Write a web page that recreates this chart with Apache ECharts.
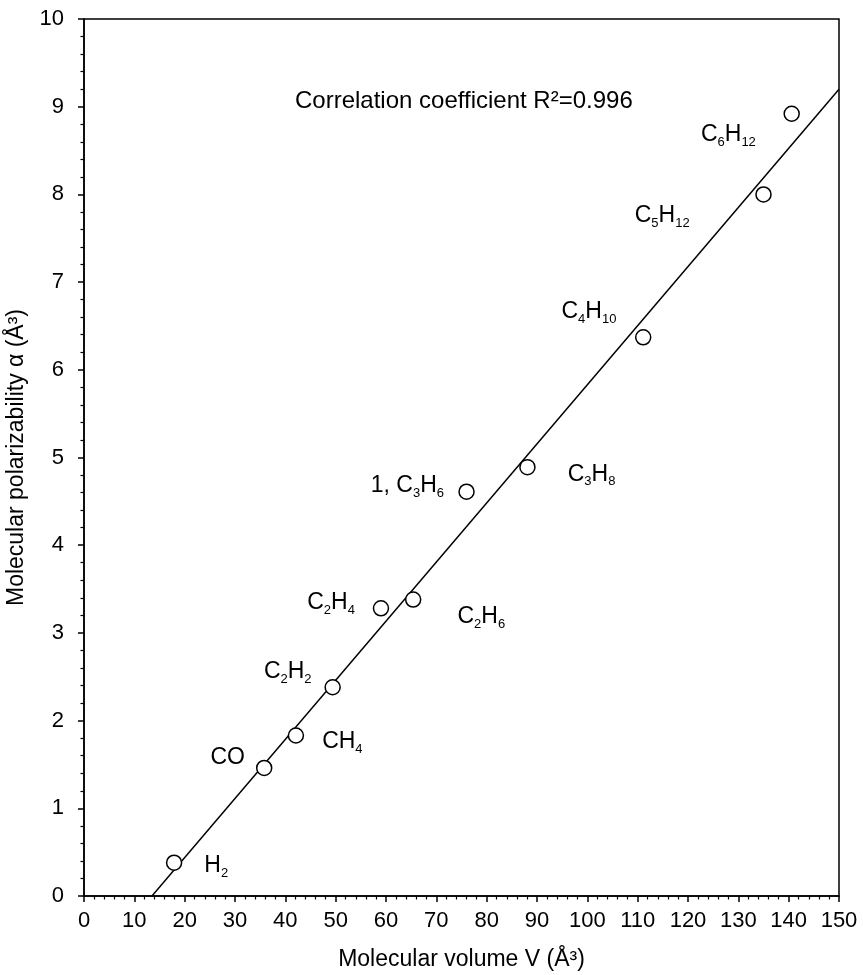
<!DOCTYPE html>
<html>
<head>
<meta charset="utf-8">
<script src="https://cdn.jsdelivr.net/npm/echarts@6/dist/echarts.min.js"></script>
<style>
  html, body { margin: 0; padding: 0; background: #fff; }
  #chart { width: 863px; height: 975px; }
</style>
</head>
<body>
<div id="chart"></div>
<script>
// Molecules and their measured volume / polarizability
const compounds = ['H2', 'CO', 'CH4', 'C2H2', 'C2H4', 'C2H6', '1, C3H6', 'C3H8', 'C4H10', 'C5H12', 'C6H12'];
const volume = [17.9, 35.8, 42.1, 49.4, 59.0, 65.4, 76.0, 88.1, 111.1, 135.0, 140.6];
const polarizability = [0.38, 1.46, 1.83, 2.38, 3.28, 3.38, 4.61, 4.89, 6.37, 8.00, 8.92];

// Linear fit end points (x-intercept and value at the right edge)
const fitLine = [[13.5, 0], [150, 9.2]];

// Axis ranges
const xRange = { min: 0, max: 150, step: 10 };
const yRange = { min: 0, max: 10, step: 1 };

const correlationText = 'Correlation coefficient R\u00B2=0.996';
const xTitle = 'Molecular volume V (\u00C5\u00B3)';
const yTitle = 'Molecular polarizability \u03B1 (\u00C5\u00B3)';

// Pixel offsets of each formula label from its marker centre (left edge, vertical middle)
const labelOffsets = {
  'H2': [31, 4],
  'CO': [-53, -10],
  'CH4': [27, 7],
  'C2H2': [-68, -15],
  'C2H4': [-73, -5],
  'C2H6': [45, 18],
  '1, C3H6': [-95, -5],
  'C3H8': [41, 8],
  'C4H10': [-81, -25],
  'C5H12': [-128, 22],
  'C6H12': [-90, 22]
};

const FONT = '"Liberation Sans", Arial, Helvetica, sans-serif';
const SYMBOL = 15;

// Turn element counts into subscripts: C3H6 -> C{s|3}H{s|6}
function formula(name) {
  return name.replace(/([A-Z])(\d+)/g, '$1{s|$2}');
}

const points = compounds.map((name, i) => {
  const off = labelOffsets[name];
  return {
    name: name,
    value: [volume[i], polarizability[i]],
    label: {
      position: [off[0] + SYMBOL / 2, off[1] + SYMBOL / 2]
    }
  };
});

const chart = echarts.init(document.getElementById('chart'), null, { renderer: 'canvas' });

const axisCommon = {
  type: 'value',
  nameLocation: 'middle',
  nameTextStyle: { fontFamily: FONT, fontSize: 23, color: '#000' },
  axisLine: { show: true, onZero: false, lineStyle: { color: '#000', width: 1.5 } },
  axisTick: { show: true, inside: false, length: 6, lineStyle: { color: '#000', width: 1.5 } },
  minorTick: { show: true, splitNumber: 5, length: 3.5, lineStyle: { color: '#000', width: 1.2 } },
  splitLine: { show: false },
  minorSplitLine: { show: false },
  axisLabel: { fontFamily: FONT, fontSize: 22, color: '#000' }
};

chart.setOption({
  backgroundColor: '#fff',
  animation: false,
  title: {
    text: correlationText,
    left: 295,
    top: 89,
    padding: 0,
    textStyle: { fontFamily: FONT, fontSize: 24, fontWeight: 'normal', color: '#000' }
  },
  grid: {
    left: 84, right: 24, top: 19, bottom: 79,
    outerBoundsMode: 'none',
    containLabel: false,
    show: true, borderColor: '#000', borderWidth: 1.5, backgroundColor: 'transparent'
  },
  xAxis: Object.assign({}, axisCommon, {
    min: xRange.min, max: xRange.max, interval: xRange.step,
    name: xTitle, nameGap: 52,
    axisLabel: Object.assign({}, axisCommon.axisLabel, { margin: 14 })
  }),
  yAxis: Object.assign({}, axisCommon, {
    min: yRange.min, max: yRange.max, interval: yRange.step,
    name: yTitle, nameGap: 50,
    axisLabel: Object.assign({}, axisCommon.axisLabel, { margin: 20 })
  }),
  series: [
    {
      type: 'line',
      data: fitLine,
      symbol: 'none',
      silent: true,
      z: 1,
      lineStyle: { color: '#000', width: 1.5 }
    },
    {
      type: 'scatter',
      data: points,
      symbol: 'circle',
      symbolSize: SYMBOL,
      z: 3,
      itemStyle: { color: '#fff', borderColor: '#000', borderWidth: 1.5, opacity: 1 },
      label: {
        show: true,
        align: 'left',
        verticalAlign: 'middle',
        fontFamily: FONT,
        fontSize: 23,
        lineHeight: 28,
        color: '#000',
        formatter: p => formula(p.name),
        rich: {
          s: { fontFamily: FONT, fontSize: 13, lineHeight: 13, verticalAlign: 'bottom', color: '#000' }
        }
      },
      labelLayout: { hideOverlap: false }
    }
  ]
});
</script>
</body>
</html>
